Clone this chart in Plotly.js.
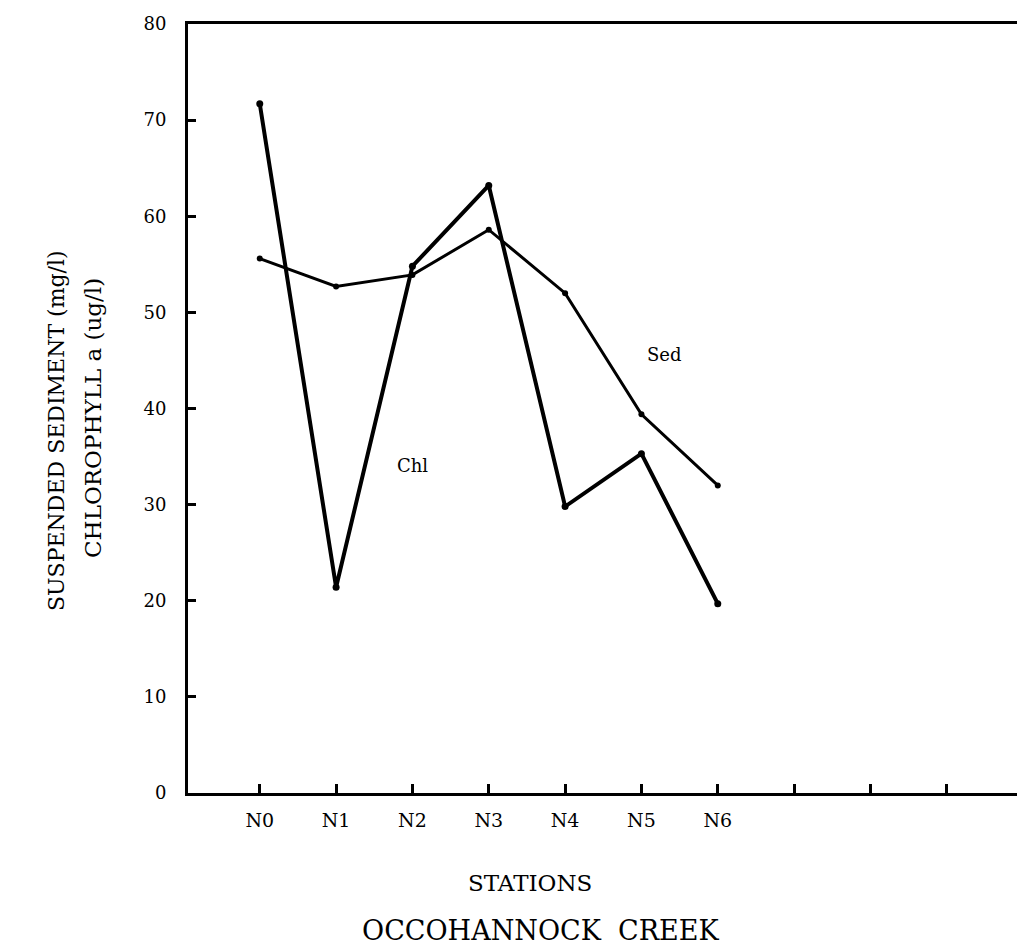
<!DOCTYPE html>
<html>
<head>
<meta charset="utf-8">
<script src="https://cdn.plot.ly/plotly-3.0.1.min.js"></script>
<style>html,body{margin:0;padding:0;background:#fff;}#chart{width:1017px;height:952px;}</style>
</head>
<body>
<div id="chart"></div>
<script>
const stations = ["N0", "N1", "N2", "N3", "N4", "N5", "N6"];
const tickLabels = ["N0", "N1", "N2", "N3", "N4", "N5", "N6", "", "", ""];
const chlValues = [71.7, 21.4, 54.8, 63.2, 29.8, 35.3, 19.7];
const sedValues = [55.6, 52.7, 53.9, 58.6, 52.0, 39.4, 32.0];
const yTicks = [0, 10, 20, 30, 40, 50, 60, 70, 80];

const xIdx = stations.map((s, i) => i);
const tickIdx = tickLabels.map((s, i) => i);
const serif = "DejaVu Serif, Liberation Serif, serif";

const traces = [
  {
    x: xIdx, y: sedValues, name: "Sed", type: "scatter", mode: "lines+markers",
    line: {color: "#000", width: 3}, marker: {color: "#000", size: 6}
  },
  {
    x: xIdx, y: chlValues, name: "Chl", type: "scatter", mode: "lines+markers",
    line: {color: "#000", width: 4}, marker: {color: "#000", size: 7}
  }
];

const L = 188, W = 829, B = 793, H = 769;
const px = v => (v - L) / W;
const py = v => (B - v) / H;

const layout = {
  width: 1017, height: 952,
  margin: {l: 188, r: 0, t: 24, b: 159},
  paper_bgcolor: "#fff", plot_bgcolor: "#fff",
  showlegend: false,
  font: {family: serif, color: "#000", size: 16},
  xaxis: {
    range: [-0.94, 9.92], tickvals: tickIdx, ticktext: tickLabels,
    showgrid: false, zeroline: false, showline: true, mirror: true,
    linecolor: "#000", linewidth: 3,
    ticks: "inside", ticklen: 9, tickwidth: 3, tickcolor: "#000",
    ticklabelstandoff: 8,
    tickfont: {family: serif, size: 19, color: "#000"}
  },
  yaxis: {
    range: [0, 80], tickvals: yTicks,
    showgrid: false, zeroline: false, showline: true,
    linecolor: "#000", linewidth: 3,
    ticks: "inside", ticklen: 8, tickwidth: 3, tickcolor: "#000",
    ticklabelstandoff: 15,
    tickfont: {family: serif, size: 18, color: "#000"}
  },
  annotations: [
    {text: "SUSPENDED SEDIMENT (mg/l)", xref: "paper", yref: "paper", x: px(56), y: py(431),
     xanchor: "center", yanchor: "middle",
     textangle: -90, showarrow: false, font: {family: serif, size: 22, color: "#000"}},
    {text: "CHLOROPHYLL a (ug/l)", xref: "paper", yref: "paper", x: px(93), y: py(418),
     xanchor: "center", yanchor: "middle",
     textangle: -90, showarrow: false, font: {family: serif, size: 23, color: "#000"}},
    {text: "Sed", xref: "x", yref: "y", x: 5.3, y: 45.6, showarrow: false,
     xanchor: "center", yanchor: "middle",
     font: {family: serif, size: 18, color: "#000"}},
    {text: "Chl", xref: "x", yref: "y", x: 2.0, y: 34.1, showarrow: false,
     xanchor: "center", yanchor: "middle",
     font: {family: serif, size: 18, color: "#000"}},
    {text: "STATIONS", xref: "paper", yref: "paper", x: px(530), y: py(883),
     xanchor: "center", yanchor: "middle",
     showarrow: false, font: {family: serif, size: 23, color: "#000"}},
    {text: "OCCOHANNOCK  CREEK", xref: "paper", yref: "paper", x: px(540), y: py(930),
     xanchor: "center", yanchor: "middle",
     showarrow: false, font: {family: serif, size: 27, color: "#000"}}
  ]
};

Plotly.newPlot("chart", traces, layout, {displayModeBar: false, staticPlot: true});
</script>
</body>
</html>
